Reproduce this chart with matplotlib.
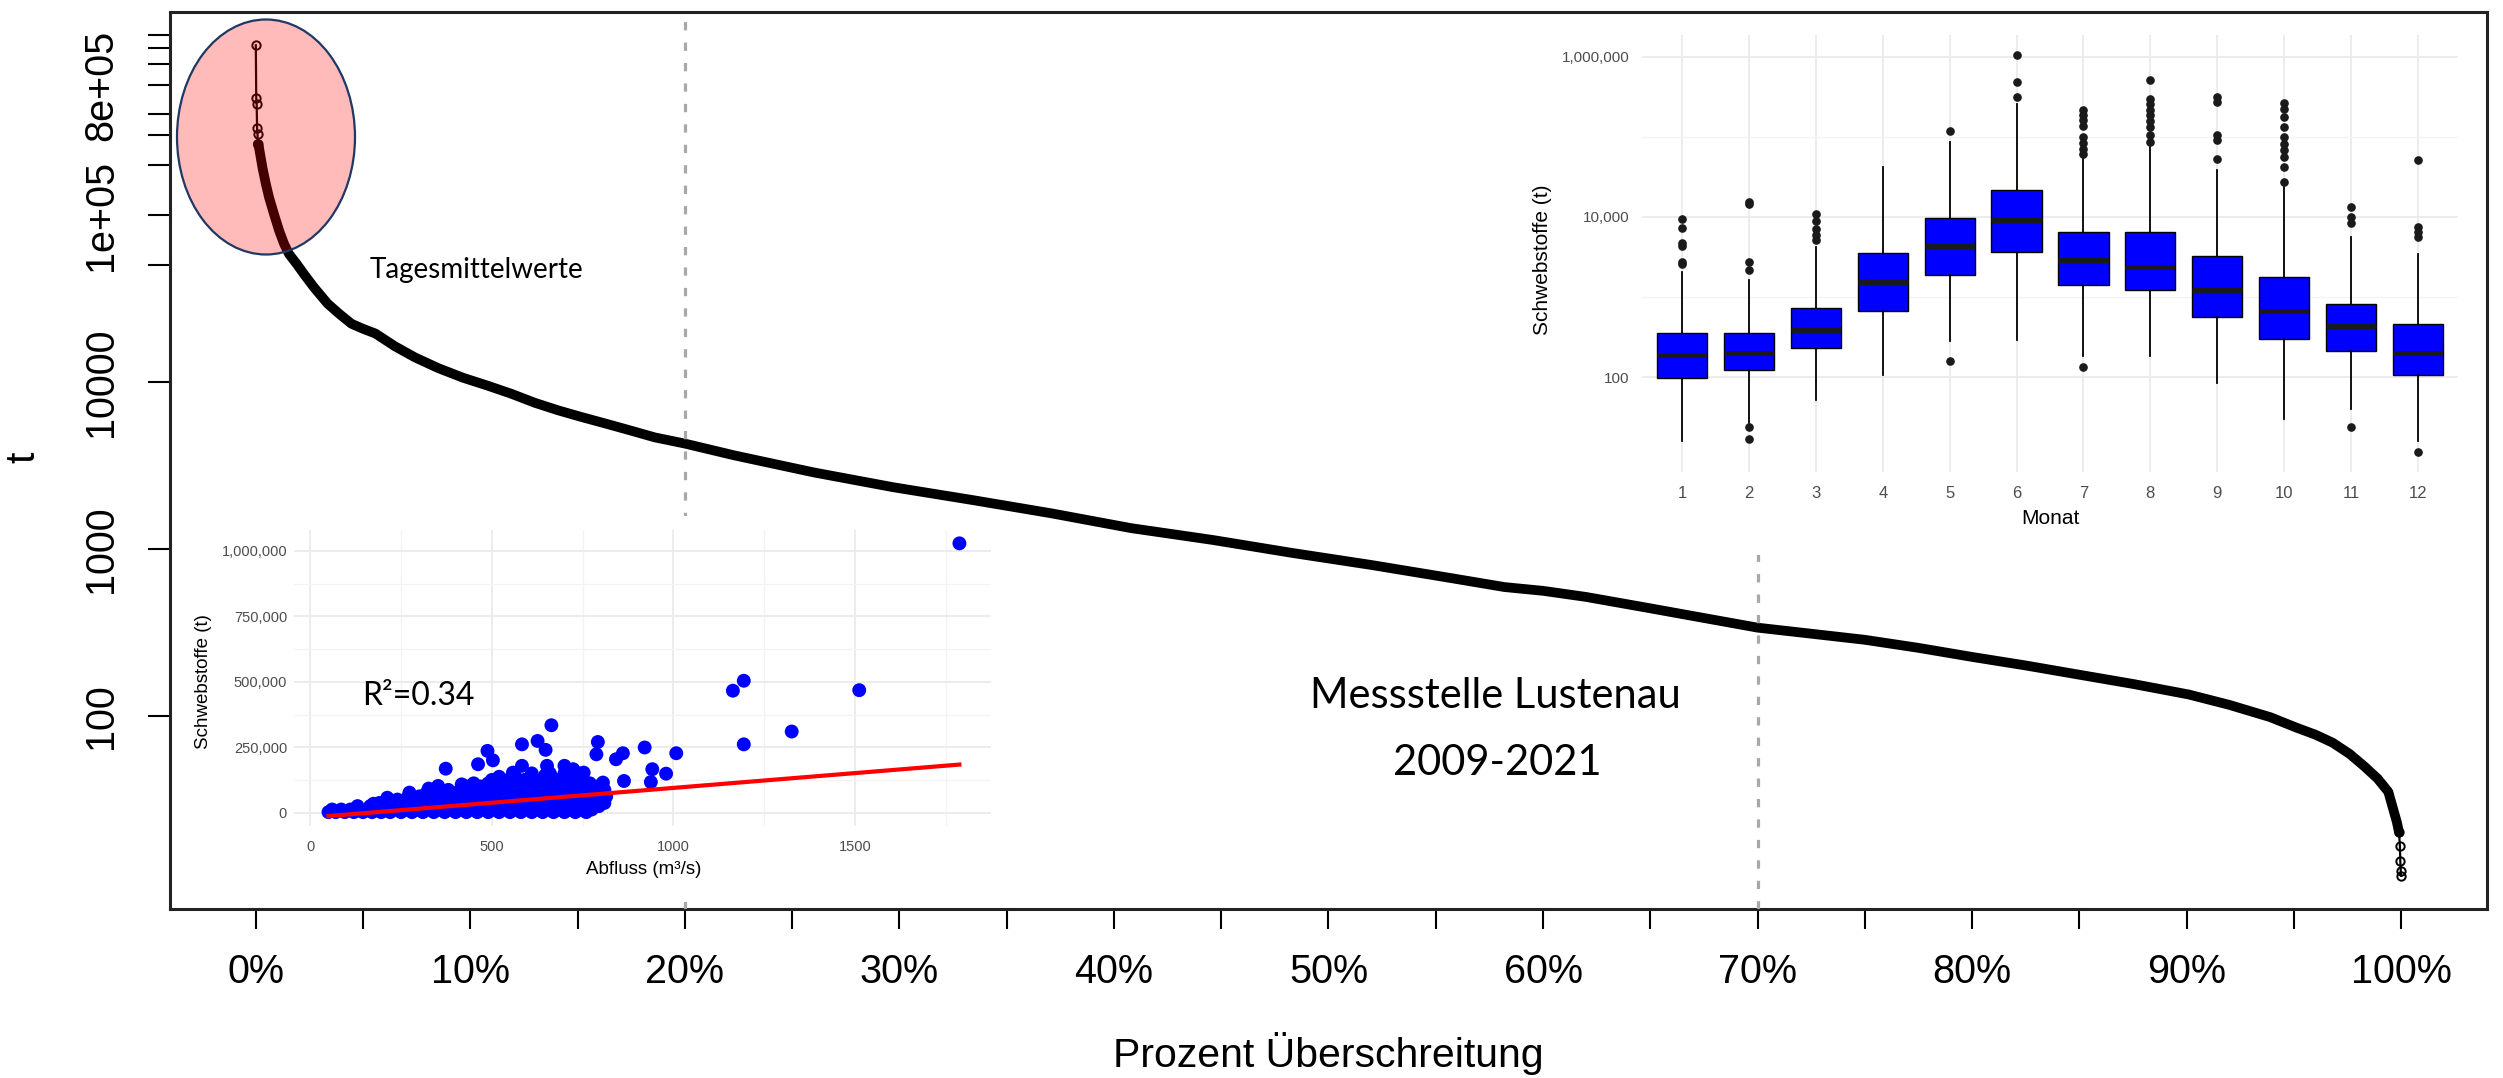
import matplotlib
matplotlib.use("Agg")
import matplotlib.pyplot as plt
from matplotlib.patches import Ellipse, Rectangle
from matplotlib.ticker import FixedLocator, NullLocator, NullFormatter

W, H = 2503, 1078
plt.rcParams["font.family"] = ["Liberation Sans", "DejaVu Sans"]

# --- Dauerlinie (Tagesmittelwerte) ---
ueberschreitung = [0.0, 0.0002, 0.0004, 0.0006, 0.0008, 0.0009, 0.0015, 0.0031, 0.0047,
                   0.0062, 0.0085, 0.0109, 0.0132, 0.0155, 0.019, 0.0223, 0.027, 0.0334,
                   0.039, 0.0446, 0.050, 0.0557, 0.065, 0.0743, 0.085, 0.0965, 0.108, 0.119,
                   0.130, 0.141, 0.152, 0.163, 0.175, 0.186, 0.200, 0.223, 0.260, 0.297,
                   0.334, 0.371, 0.408, 0.446, 0.483, 0.520, 0.557, 0.582, 0.600, 0.620,
                   0.650, 0.675, 0.700, 0.725, 0.750, 0.775, 0.800, 0.825, 0.850, 0.875,
                   0.901, 0.920, 0.939, 0.951, 0.960, 0.968, 0.976, 0.983, 0.989, 0.994,
                   0.998, 0.9990, 0.9994, 0.9996, 0.9998, 1.0]
tonnen = [1040000, 500000, 460000, 330000, 306000, 266000, 253000, 192000, 153000,
          127000, 101000, 80300, 67000, 58300, 51000, 44500, 37000, 29500,
          25500, 22300, 20800, 19500, 16300, 14000, 12100, 10600, 9500, 8500,
          7500, 6750, 6150, 5630, 5100, 4650, 4270, 3630, 2870, 2340,
          1960, 1630, 1330, 1130, 945, 800, 668, 590, 560, 515,
          440, 385, 337, 310, 285, 255, 225, 200, 176, 155,
          134, 116, 98, 85, 77, 69, 59, 49.5, 42, 35,
          23, 20, 16.5, 13.4, 11.7, 11.0]

markierungen = [0.2, 0.7]
prozent_ticks = [0, 5, 10, 15, 20, 25, 30, 35, 40, 45, 50, 55, 60, 65, 70, 75, 80, 85, 90, 95, 100]
y_ticks = [100, 1000, 10000, 50000, 1e5, 2e5, 3e5, 4e5, 6e5, 8e5, 1e6, 1.2e6]
y_labels = ["100", "1000", "10000", "", "1e+05", "", "", "", "8e+05", "", "", ""]

# --- Boxplot je Monat (Schwebstoffe t) ---
monate = [1, 2, 3, 4, 5, 6, 7, 8, 9, 10, 11, 12]
q1 = [97, 121, 230, 660, 1900, 3650, 1430, 1235, 562, 301, 211, 105]
median = [190, 200, 383, 1540, 4340, 9090, 2870, 2370, 1210, 668, 430, 201]
q3 = [355, 355, 735, 3550, 9800, 21500, 6490, 6490, 3220, 1780, 810, 455]
whisker_lo = [16, 27, 51, 105, 282, 287, 181, 181, 83, 30, 40, 16]
whisker_hi = [2050, 1620, 4220, 42200, 86600, 261000, 58900, 75000, 38300, 23700, 5620, 3480]
ausreisser = [
    [2600, 2700, 4400, 4700, 7300, 9500],
    [2150, 2740, 14400, 15400, 23.7, 17],
    [5200, 5900, 7150, 8900, 11000],
    [],
    [119000, 158],
    [316000, 487000, 1050000],
    [61700, 71500, 84000, 100000, 136000, 162000, 187000, 215000, 133],
    [86600, 105000, 133000, 158000, 187000, 220000, 256000, 301000, 521000],
    [53600, 90800, 105000, 274000, 316000],
    [27400, 42200, 56200, 68100, 82500, 100000, 133000, 178000, 226000, 266000],
    [8410, 10000, 13300, 24],
    [5620, 6490, 7500, 51100, 11.5],
]

# --- Abfluss vs. Schwebstoffe ---
# dense cloud, read row by row: (Schwebstoffe t, [Abfluss m3/s, ...])
wolke = [
    (2000, [50, 70, 95, 120, 145, 170, 195, 220, 250, 280, 310, 340, 370, 400, 430, 460,
            490, 520, 550, 580, 610, 640, 670, 700, 730, 760]),
    (12000, [60, 85, 110, 135, 160, 185, 210, 235, 265, 295, 325, 355, 385, 415, 445, 475,
             505, 535, 565, 595, 625, 655, 685, 715, 745, 775]),
    (25000, [130, 165, 200, 235, 270, 305, 340, 375, 410, 445, 480, 515, 550, 585, 620, 655,
             690, 725, 760, 795]),
    (37000, [190, 220, 255, 290, 325, 360, 395, 430, 465, 500, 535, 570, 605, 640, 675, 710,
             745, 780, 810]),
    (50000, [240, 280, 320, 360, 400, 440, 480, 520, 560, 600, 640, 680, 720, 760, 800]),
    (62000, [270, 300, 340, 380, 420, 460, 500, 540, 580, 620, 660, 700, 740, 780, 815]),
    (75000, [320, 360, 400, 440, 480, 520, 560, 600, 640, 680, 720, 760, 800]),
    (87000, [350, 380, 420, 460, 500, 540, 580, 620, 660, 700, 740, 780, 810]),
    (100000, [430, 470, 510, 550, 590, 630, 670, 710, 750, 790]),
    (112000, [450, 490, 530, 570, 610, 650, 690, 730, 770]),
    (125000, [500, 545, 590, 635, 680, 725]),
    (137000, [520, 565, 610, 655, 700, 745]),
    (150000, [560, 610, 660, 700, 740]),
]
abfluss_einzeln = [1788, 1194, 1164, 1512, 1326, 1194, 664, 626, 583, 648, 488, 503, 462, 373,
                   583, 792, 788, 861, 842, 921, 1008, 942, 980, 938, 864, 700, 724, 753, 652,
                   647, 602, 558, 524, 417, 352, 326, 273, 212, 174, 811, 806]
schweb_einzeln = [1029000, 504000, 466000, 468000, 310000, 261000, 334000, 274000, 261000,
                  240000, 236000, 200000, 185000, 168000, 179000, 270000, 223000, 227000,
                  204000, 249000, 227000, 166000, 149000, 117000, 121000, 179000, 166000,
                  153000, 179000, 143000, 124000, 153000, 127000, 108000, 102000, 92000,
                  76500, 57000, 34000, 53500, 115000]
fit_achse = -18700
fit_steigung = 113.2
r2_text = "R²=0.34"

abfluss = [q for t, qs in wolke for q in qs] + abfluss_einzeln
schwebstoffe = [t for t, qs in wolke for q in qs] + schweb_einzeln


def box(x0, y0, x1, y1):
    return [x0 / W, 1 - y1 / H, (x1 - x0) / W, (y1 - y0) / H]


def fx(x):
    return x / W


def fy(y):
    return 1 - y / H


fig = plt.figure(figsize=(W / 100, H / 100), dpi=100)

# main duration curve
ax = fig.add_axes(box(170, 12, 2487, 909), zorder=0)
ax.set_yscale("log")
ax.plot(ueberschreitung, tonnen, color="black", lw=1.6, zorder=3)
ax.plot(ueberschreitung[5:-4], tonnen[5:-4], color="black", lw=7,
        solid_capstyle="round", solid_joinstyle="round", zorder=3)
einzel = list(range(6)) + list(range(len(tonnen) - 5, len(tonnen)))
ax.plot([ueberschreitung[i] for i in einzel], [tonnen[i] for i in einzel], ls="none",
        marker="o", ms=6, mfc="none", mec="black", mew=1.4, zorder=3)
for p in markierungen:
    ax.axvline(p, color="#A8A8A8", lw=2.3, ls=(0, (2.6, 3.8)), zorder=4)
ax.set_xlim(-0.04, 1.04)
ax.set_ylim(6.95, 1.645e6)
ax.xaxis.set_major_locator(FixedLocator([p / 100 for p in prozent_ticks]))
ax.set_xticklabels([f"{p}%" if p % 10 == 0 else "" for p in prozent_ticks])
ax.yaxis.set_major_locator(FixedLocator(y_ticks))
ax.yaxis.set_minor_locator(NullLocator())
ax.yaxis.set_minor_formatter(NullFormatter())
ax.set_yticklabels(y_labels)
ax.tick_params(axis="x", length=14.5, width=1.5, pad=17, labelsize=28.5)
ax.tick_params(axis="y", length=16, width=1.5, pad=20, labelsize=28.5)
for lab in ax.get_yticklabels():
    lab.set_rotation(90)
    lab.set_va("center")
for s in ax.spines.values():
    s.set_linewidth(2.2)
    s.set_color("#222222")

fig.text(fx(1328), fy(1067), "Prozent Überschreitung", ha="center", va="baseline", fontsize=29.5)
fig.text(fx(23), fy(457), "t", rotation=90, ha="center", va="center", fontsize=29.5)
fig.text(fx(370), fy(278), "Tagesmittelwerte", family="Lato", fontsize=20, va="baseline")
fig.text(fx(1495), fy(708), "Messstelle Lustenau", family="Lato", fontsize=30,
         ha="center", va="baseline")
fig.text(fx(1497), fy(775), "2009-2021", family="Lato", fontsize=30, ha="center", va="baseline")

fig.add_artist(Ellipse((fx(266), fy(137)), 178 / W, 235 / H, transform=fig.transFigure,
                       facecolor=(1, 0, 0, 0.27), edgecolor="#1F3864", lw=1.6, zorder=1))

# white backings of the pasted insets
fig.add_artist(Rectangle((fx(1512), fy(555)), 966 / W, 539 / H, transform=fig.transFigure,
                         facecolor="white", edgecolor="none", zorder=1))
fig.add_artist(Rectangle((fx(174), fy(902)), 826 / W, 386 / H, transform=fig.transFigure,
                         facecolor="white", edgecolor="none", zorder=1))

grid_col = "#EBEBEB"
tick_col = "#4D4D4D"

# monthly boxplot inset
bx = fig.add_axes(box(1642, 35, 2458, 472), zorder=2)
bx.set_yscale("log")
stats = [dict(med=median[i], q1=q1[i], q3=q3[i], whislo=whisker_lo[i],
              whishi=whisker_hi[i], fliers=ausreisser[i]) for i in range(len(monate))]
bx.bxp(stats, positions=monate, widths=0.75, patch_artist=True, showcaps=False,
       manage_ticks=False,
       boxprops=dict(facecolor="#0000FF", edgecolor="black", lw=1.0),
       medianprops=dict(color="#1A1A1A", lw=3.6),
       whiskerprops=dict(color="black", lw=1.3),
       flierprops=dict(marker="o", mfc="#1A1A1A", mec="#1A1A1A", ms=5.2))
bx.set_xlim(0.4, 12.6)
bx.set_ylim(6.5, 1.88e6)
bx.set_xticks(monate)
bx.set_xticklabels([str(m) for m in monate])
bx.yaxis.set_major_locator(FixedLocator([100, 1e4, 1e6]))
bx.set_yticklabels(["100", "10,000", "1,000,000"])
bx.yaxis.set_minor_locator(FixedLocator([1e3, 1e5]))
bx.yaxis.set_minor_formatter(NullFormatter())
bx.set_axisbelow(True)
bx.grid(True, which="major", color=grid_col, lw=1.3)
bx.grid(True, which="minor", axis="y", color="#F3F3F3", lw=0.9)
bx.tick_params(which="both", length=0)
bx.tick_params(axis="x", labelsize=12, labelcolor=tick_col, pad=10)
bx.tick_params(axis="y", labelsize=11, labelcolor=tick_col, pad=9)
for s in bx.spines.values():
    s.set_visible(False)
fig.text(fx(1542), fy(260), "Schwebstoffe (t)", rotation=90, ha="center", va="center", fontsize=15)
fig.text(fx(2050), fy(518), "Monat", ha="center", va="center", fontsize=15)

# scatter inset
sx = fig.add_axes(box(294, 530, 991, 826), zorder=2)
sx.scatter(abfluss, schwebstoffe, s=100, color="#0000FF", edgecolors="none", zorder=2)
fit_x = [min(abfluss), max(abfluss)]
sx.plot(fit_x, [fit_achse + fit_steigung * q for q in fit_x], color="red", lw=3, zorder=3)
sx.set_xlim(-45, 1875)
sx.set_ylim(-51000, 1.08e6)
sx.xaxis.set_major_locator(FixedLocator([0, 500, 1000, 1500]))
sx.xaxis.set_minor_locator(FixedLocator([250, 750, 1250, 1750]))
sx.yaxis.set_major_locator(FixedLocator([0, 250000, 500000, 750000, 1000000]))
sx.yaxis.set_minor_locator(FixedLocator([125000, 375000, 625000, 875000]))
sx.set_xticklabels(["0", "500", "1000", "1500"])
sx.set_yticklabels(["0", "250,000", "500,000", "750,000", "1,000,000"])
sx.set_axisbelow(True)
sx.grid(True, which="major", color=grid_col, lw=1.3)
sx.grid(True, which="minor", color="#F3F3F3", lw=0.9)
sx.tick_params(which="both", length=0, labelsize=10.5, labelcolor=tick_col)
sx.tick_params(axis="x", pad=10)
sx.tick_params(axis="y", pad=5)
for s in sx.spines.values():
    s.set_visible(False)
fig.text(fx(203), fy(682), "Schwebstoffe (t)", rotation=90, ha="center", va="center", fontsize=13.5)
fig.text(fx(644), fy(870), "Abfluss (m³/s)", ha="center", va="center", fontsize=13.5)
fig.text(fx(362), fy(705), r2_text, family="Lato", fontsize=23, va="baseline", zorder=5)

fig.savefig("out.png", dpi=100)
